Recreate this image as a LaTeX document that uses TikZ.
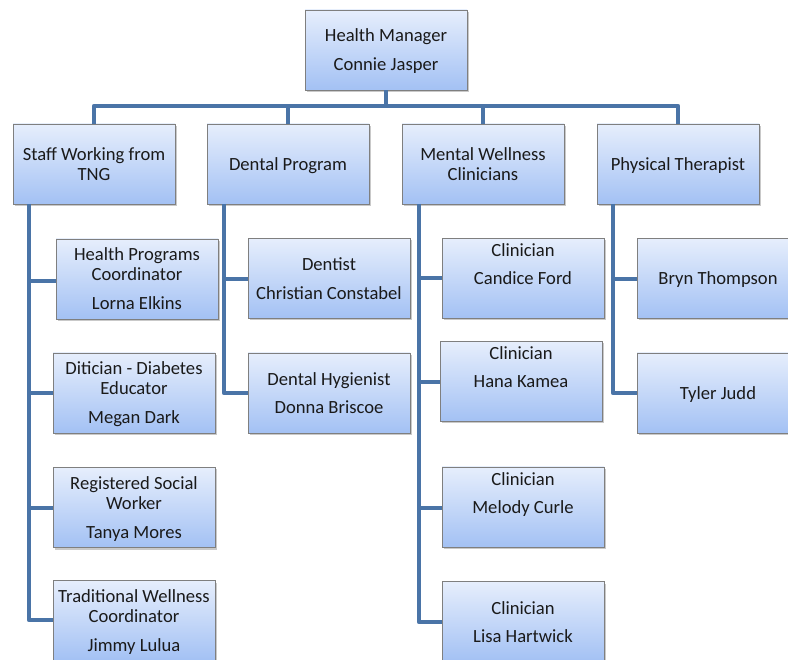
\documentclass[tikz,border=0pt]{standalone}
\usepackage{fontspec}
\setmainfont{Carlito}
\usetikzlibrary{shadows}
\newcommand{\ms}{\rule[-3pt]{0pt}{19pt}}
\definecolor{lnk}{HTML}{4A74A7}
\definecolor{topc}{HTML}{E6EEFC}
\definecolor{botc}{HTML}{A3C1F4}
\definecolor{bord}{HTML}{7F7F7F}
\definecolor{txtc}{HTML}{1A1A1A}
\tikzset{
  box/.style={rectangle, draw=bord, line width=0.9pt, top color=topc, bottom color=botc,
    minimum width=162pt, minimum height=80pt, inner sep=0pt, align=center,
    text=txtc, font=\fontsize{18.6}{20}\selectfont,
    drop shadow={shadow xshift=2pt, shadow yshift=-2pt, opacity=0.35, fill=black!60}},
  link/.style={draw=lnk, line width=4.6pt, line join=round}
}
\begin{document}
\begin{tikzpicture}[x=1pt,y=-1pt]
\useasboundingbox (0,0) rectangle (788,660);
\clip (0,0) rectangle (788,660);
\fill[white] (0,0) rectangle (788,660);
% coordinates for connector spines
\coordinate (bus) at (386,106);
\coordinate (sv) at (29,204);
\coordinate (dv) at (224,204);
\coordinate (mv) at (419,204);
\coordinate (pv) at (613,204);
% top levels
\node[box] (hm) at (386,50) {\ms Health Manager\\[9pt]\ms Connie Jasper};
\node[box] (staff) at (94,164) {\ms Staff Working from\\\ms TNG};
\node[box] (dental) at (288,164) {\ms Dental Program};
\node[box] (mental) at (483,164) {\ms Mental Wellness\\\ms Clinicians};
\node[box] (phys) at (678,164) {\ms Physical Therapist};
\path[link] (hm.south) -- (bus);
\path[link] (staff.north) |- (bus) -| (phys.north);
\path[link] (dental.north) -- (dental.north |- bus);
\path[link] (mental.north) -- (mental.north |- bus);
% branch connectors
\path[link] (sv) |- (29,620) -- (53,620);
\path[link] (29,281) -- (56,281);
\path[link] (29,393) -- (53,393);
\path[link] (29,508) -- (53,508);
\path[link] (dv) |- (248,393);
\path[link] (224,279) -- (248,279);
\path[link] (mv) |- (442,622);
\path[link] (419,278) -- (442,278);
\path[link] (419,382) -- (440,382);
\path[link] (419,508) -- (442,508);
\path[link] (pv) |- (637,393);
\path[link] (613,279) -- (637,279);
% child boxes
\node[box] (lorna) at (137,279) {\ms Health Programs\\\ms Coordinator\\[9pt]\ms Lorna Elkins};
\node[box] (megan) at (134,393) {\ms Ditician - Diabetes\\\ms Educator\\[9pt]\ms Megan Dark};
\node[box] (tanya) at (134,507.5) {\ms Registered Social\\\ms Worker\\[9pt]\ms Tanya Mores};
\node[box] (jimmy) at (134,620.5) {\ms Traditional Wellness\\\ms Coordinator\\[9pt]\ms Jimmy Lulua};
\node[box] (dentist) at (329,278.5) {\ms Dentist\\[9pt]\ms Christian Constabel};
\node[box] (donna) at (329,393) {\ms Dental Hygienist\\[8pt]\ms Donna Briscoe};
\node[box] (candice) at (523,278.5) {\ms Clinician\\[8pt]\ms Candice Ford\\[8pt]\ms};
\node[box] (hana) at (521,381.5) {\ms Clinician\\[8pt]\ms Hana Kamea\\[8pt]\ms};
\node[box] (melody) at (523,507) {\ms Clinician\\[8pt]\ms Melody Curle\\[8pt]\ms};
\node[box] (lisa) at (523,621.5) {\ms Clinician\\[8pt]\ms Lisa Hartwick};
\node[box] (bryn) at (718,278.5) {\ms Bryn Thompson};
\node[box] (tyler) at (718,393) {\ms Tyler Judd};
\end{tikzpicture}
\end{document}
